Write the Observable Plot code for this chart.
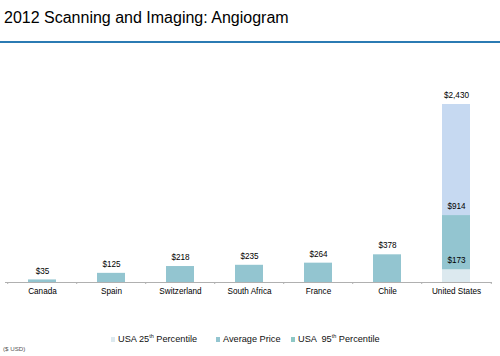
<!DOCTYPE html>
<html>
<head>
<meta charset="utf-8">
<script src="https://cdn.jsdelivr.net/npm/d3@7"></script>
<script src="https://cdn.jsdelivr.net/npm/@observablehq/plot@0.6"></script>
<style>
  html, body { margin: 0; padding: 0; background: #fff; }
  body { width: 500px; height: 356px; position: relative; overflow: hidden; font-family: "Liberation Sans", Arial, sans-serif; }
  #title { position: absolute; left: 4px; top: 9px; font-size: 16px; color: #000; white-space: nowrap; }
  #rule { position: absolute; left: 0; top: 41px; width: 500px; height: 2px; background: #2b7bb3; }
  #chart { position: absolute; left: 0; top: 44px; }
  #legend { position: absolute; left: 0; top: 333px; width: 500px; height: 12px; font-size: 9.2px; color: #111; }
  .item { position: absolute; top: 0; white-space: pre; line-height: 12px; }
  .sw { display: inline-block; width: 4px; height: 5px; margin-right: 3px; vertical-align: 0px; }
  sup { font-size: 5.5px; vertical-align: 4px; line-height: 0; }
  #caption { position: absolute; left: 3px; top: 345px; font-size: 6.2px; color: #555; }
</style>
</head>
<body>
<div id="title">2012 Scanning and Imaging: Angiogram</div>
<div id="rule"></div>
<div id="chart"></div>
<div id="legend"></div>
<div id="caption">($ USD)</div>
<script>
// Data
const categories = ["Canada", "Spain", "Switzerland", "South Africa", "France", "Chile", "United States"];
const averagePrice = [35, 125, 218, 235, 264, 378, 914];
const usPercentile25 = 173;
const usPercentile95 = 2430;
const legendLabels = ["USA 25th Percentile", "Average Price", "USA  95th Percentile"];
const legendColors = ["#dce9ef", "#93c5d0", "#8ec8c6"];

const colAvg = "#93c5d0";
const col25 = "#dce9ef";
const col95 = "#c6d9f1";

// Build segments
const segments = [];
categories.forEach((c, i) => {
  if (c === "United States") {
    segments.push({cat: c, y1: 0, y2: usPercentile25, fill: col25});
    segments.push({cat: c, y1: usPercentile25, y2: averagePrice[i], fill: colAvg});
    segments.push({cat: c, y1: averagePrice[i], y2: usPercentile95, fill: col95});
  } else {
    segments.push({cat: c, y1: 0, y2: averagePrice[i], fill: colAvg});
  }
});
const labels = [];
categories.forEach((c, i) => {
  labels.push({cat: c, v: averagePrice[i]});
  if (c === "United States") {
    labels.push({cat: c, v: usPercentile25});
    labels.push({cat: c, v: usPercentile95});
  }
});
const fmt = d3.format(",");

const W = 500, H = 260, ML = 5, MR = 8, MT = 60, MB = 22;
const step = (W - ML - MR) / categories.length;
const tickLen = 2 * usPercentile95 / (H - MT - MB);

const chart = Plot.plot({
  width: W,
  height: H,
  marginLeft: ML,
  marginRight: MR,
  marginTop: MT,
  marginBottom: MB,
  style: {fontFamily: "Liberation Sans, Arial, sans-serif", background: "transparent"},
  x: {domain: categories, paddingInner: 0.6, paddingOuter: 0.3, label: null},
  y: {domain: [0, usPercentile95], axis: null},
  marks: [
    Plot.barY(segments, {x: "cat", y1: "y1", y2: "y2", fill: d => d.fill}),
    Plot.ruleY([0], {stroke: "#b0b0b0", strokeWidth: 1}),
    Plot.ruleX(categories, {x: d => d, y1: 0, y2: -tickLen, dx: -step / 2, stroke: "#b0b0b0"}),
    Plot.ruleX(categories.slice(-1), {x: d => d, y1: 0, y2: -tickLen, dx: step / 2, stroke: "#b0b0b0"}),
    Plot.text(labels, {x: "cat", y: "v", text: d => "$" + fmt(d.v), dy: -9, fontSize: 8.2, fill: "#000"}),
    Plot.axisX({tickSize: 0, tickPadding: 6, fontSize: 8.2, color: "#000", label: null})
  ]
});
document.getElementById("chart").appendChild(chart);

// Legend
const legendX = [111, 216, 291];
const legend = document.getElementById("legend");
legendLabels.forEach((lab, i) => {
  const item = document.createElement("div");
  item.className = "item";
  item.style.left = legendX[i] + "px";
  const sw = document.createElement("span");
  sw.className = "sw";
  sw.style.background = legendColors[i];
  item.appendChild(sw);
  const t = document.createElement("span");
  t.innerHTML = lab.replace(/(\d+)th/, "$1<sup>th</sup>");
  item.appendChild(t);
  legend.appendChild(item);
});
</script>
</body>
</html>
